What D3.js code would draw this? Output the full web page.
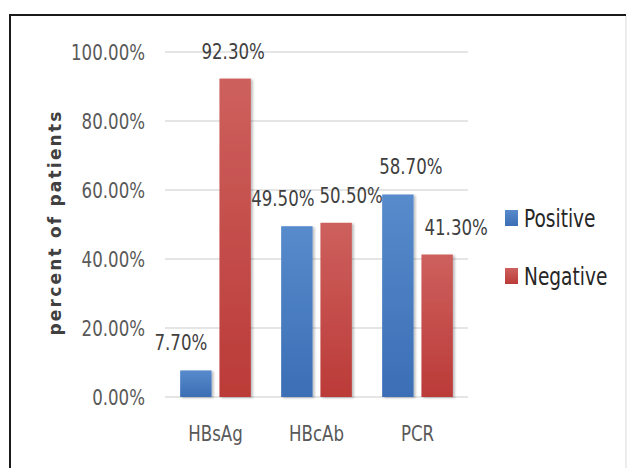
<!DOCTYPE html>
<html>
<head>
<meta charset="utf-8">
<script src="https://cdn.jsdelivr.net/npm/d3@7"></script>
<style>
  body { margin: 0; background: #fff; }
  text.cf { font-family: "DejaVu Sans Condensed", "DejaVu Sans", sans-serif; font-stretch: condensed; }
</style>
</head>
<body>
<div id="chart"></div>
<script>
const categories = ['HBsAg', 'HBcAb', 'PCR'];
const seriesNames = ['Positive', 'Negative'];
const positive = [7.7, 49.5, 58.7];
const negative = [92.3, 50.5, 41.3];
const yTicks = [0, 20, 40, 60, 80, 100];
// label nudges as placed by hand in the original
const labelDx = [[-15, -2], [-14, 15], [13, 19]];

const width = 627, height = 468;
const margin = {top: 52, right: 159, bottom: 71, left: 165};

const svg = d3.select('#chart').append('svg')
  .attr('width', width)
  .attr('height', height);

const defs = svg.append('defs');
const grads = [
  {id: 'grad-pos', top: '#578bcc', bottom: '#3b6eb5'},
  {id: 'grad-neg', top: '#cd605d', bottom: '#bb3b38'}
];
grads.forEach(g => {
  const lg = defs.append('linearGradient').attr('id', g.id)
    .attr('x1', 0).attr('y1', 0).attr('x2', 0).attr('y2', 1);
  lg.append('stop').attr('offset', '0%').attr('stop-color', g.top);
  lg.append('stop').attr('offset', '100%').attr('stop-color', g.bottom);
});
const shadow = defs.append('filter').attr('id', 'shadow')
  .attr('x', '-20%').attr('y', '-10%').attr('width', '150%').attr('height', '130%');
shadow.append('feDropShadow').attr('dx', 2).attr('dy', 1).attr('stdDeviation', 1.2)
  .attr('flood-color', '#000').attr('flood-opacity', 0.25);

// squeeze text horizontally, like the narrow font of the original
function squeeze(sel, k) {
  sel.each(function() {
    const w = this.getComputedTextLength();
    d3.select(this).attr('textLength', w * k).attr('lengthAdjust', 'spacingAndGlyphs');
  });
}

// frame
svg.append('line').attr('x1', 10).attr('x2', 10).attr('y1', 14).attr('y2', height)
  .attr('stroke', '#1a1a1a').attr('stroke-width', 2);
svg.append('line').attr('x1', 10).attr('x2', 626).attr('y1', 15).attr('y2', 15)
  .attr('stroke', '#1a1a1a').attr('stroke-width', 2);
svg.append('line').attr('x1', 626).attr('x2', 626).attr('y1', 16).attr('y2', height)
  .attr('stroke', '#e6e6e6').attr('stroke-width', 1.5);

const x0 = d3.scaleBand()
  .domain(categories)
  .range([margin.left, width - margin.right])
  .paddingInner(0.3)
  .paddingOuter(0.15);

const x1 = d3.scaleBand()
  .domain(seriesNames)
  .range([0, x0.bandwidth()])
  .paddingInner(0.2);

const y = d3.scaleLinear()
  .domain([0, 100])
  .range([height - margin.bottom, margin.top]);

// gridlines
svg.append('g')
  .selectAll('line')
  .data(yTicks)
  .join('line')
  .attr('x1', margin.left)
  .attr('x2', width - margin.right)
  .attr('y1', d => y(d))
  .attr('y2', d => y(d))
  .attr('stroke', '#dcdcdc')
  .attr('stroke-width', 1.6);

// y axis labels
svg.append('g')
  .call(d3.axisLeft(y).tickValues(yTicks).tickSize(0).tickPadding(0)
    .tickFormat(d => d.toFixed(2) + '%'))
  .attr('transform', `translate(${margin.left - 20},0)`)
  .attr('font-family', null).attr('font-size', null)
  .call(g => g.select('.domain').remove())
  .call(g => g.selectAll('text')
    .attr('class', 'cf')
    .attr('fill', '#595959')
    .style('font-size', '22px')
    .call(squeeze, 0.84));

// x axis labels
svg.append('g')
  .attr('transform', `translate(0,${y(0) + 28})`)
  .call(d3.axisBottom(x0).tickSize(0).tickPadding(0))
  .attr('font-family', null).attr('font-size', null)
  .call(g => g.select('.domain').remove())
  .call(g => g.selectAll('text')
    .attr('class', 'cf')
    .attr('fill', '#595959')
    .attr('dy', '0.71em')
    .style('font-size', '22px')
    .call(squeeze, 0.84));

// axis title
svg.append('text')
  .attr('transform', `translate(61,${(y(0) + y(100)) / 2 - 2}) rotate(-90)`)
  .attr('text-anchor', 'middle')
  .attr('fill', '#404040')
  .style('font-family', '"DejaVu Sans", sans-serif')
  .style('font-weight', 'bold')
  .style('font-size', '17px')
  .style('letter-spacing', '2.2px')
  .text('percent of patients');

const rows = categories.map((c, i) => ({cat: c, i, values: [positive[i], negative[i]]}));

const groups = svg.append('g')
  .selectAll('g')
  .data(rows)
  .join('g')
  .attr('transform', d => `translate(${x0(d.cat)},0)`);

groups.selectAll('rect')
  .data(d => d.values.map((v, j) => ({v, j, i: d.i})))
  .join('rect')
  .attr('x', d => x1(seriesNames[d.j]))
  .attr('y', d => y(d.v))
  .attr('width', x1.bandwidth())
  .attr('height', d => y(0) - y(d.v))
  .attr('fill', d => `url(#${grads[d.j].id})`)
  .attr('filter', 'url(#shadow)');

groups.selectAll('text')
  .data(d => d.values.map((v, j) => ({v, j, i: d.i})))
  .join('text')
  .attr('class', 'cf')
  .attr('x', d => x1(seriesNames[d.j]) + x1.bandwidth() / 2 + labelDx[d.i][d.j])
  .attr('y', d => y(d.v) - 20)
  .attr('text-anchor', 'middle')
  .attr('fill', '#404040')
  .style('font-size', '22px')
  .text(d => d.v.toFixed(2) + '%')
  .call(squeeze, 0.84);

// legend
const legend = svg.append('g')
  .selectAll('g')
  .data(seriesNames)
  .join('g')
  .attr('transform', (d, j) => `translate(505,${218 + j * 58})`);

legend.append('rect')
  .attr('x', 0).attr('y', -8)
  .attr('width', 13).attr('height', 16)
  .attr('fill', (d, j) => `url(#${grads[j].id})`);

legend.append('text')
  .attr('class', 'cf')
  .attr('x', 19)
  .attr('dy', '0.36em')
  .attr('fill', '#262626')
  .style('font-size', '24px')
  .text(d => d)
  .call(squeeze, 0.86);
</script>
</body>
</html>
